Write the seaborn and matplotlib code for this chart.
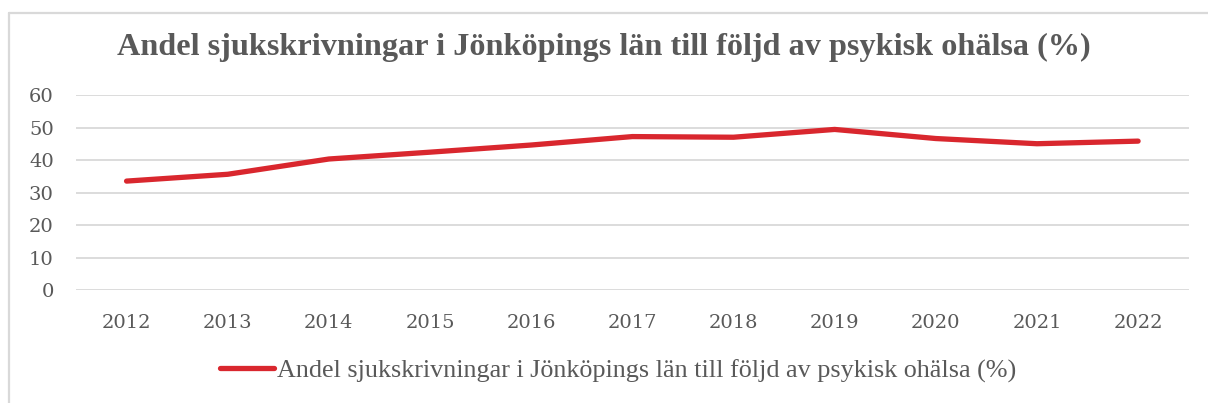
import matplotlib.pyplot as plt
import pandas as pd
import seaborn as sns
from matplotlib.lines import Line2D

years = ["2012", "2013", "2014", "2015", "2016", "2017", "2018", "2019", "2020", "2021", "2022"]
share = [33.6, 35.7, 40.4, 42.5, 44.7, 47.3, 47.1, 49.5, 46.7, 45.1, 45.9]
y_ticks = [0, 10, 20, 30, 40, 50, 60]
series_name = "Andel sjukskrivningar i Jönköpings län till följd av psykisk ohälsa (%)"

RED = "#d9272e"
GREY_TEXT = "#595959"
GRID = "#d9d9d9"


def main() -> None:
    sns.set_theme(style="white")
    # ticks in a wide serif (closest to Georgia), title/legend in Liberation Serif
    plt.rcParams["font.family"] = ["DejaVu Serif"]

    df = pd.DataFrame({"år": years, "andel": share})

    fig = plt.figure(figsize=(12.08, 4.03), dpi=100)
    ax = fig.add_axes([0.0629, 0.2797, 0.984 - 0.0629, 0.7635 - 0.2797])

    sns.lineplot(data=df, x="år", y="andel", ax=ax, color=RED, linewidth=3.8,
                 solid_capstyle="round", sort=False)

    ax.set_xlim(-0.5, len(years) - 0.5)
    ax.set_ylim(0, 60)
    ax.set_yticks(y_ticks)
    for y in y_ticks:
        ax.axhline(y, color=GRID, linewidth=1.3, zorder=0)
    for side in ["top", "right", "left", "bottom"]:
        ax.spines[side].set_visible(False)

    ax.set_xlabel("")
    ax.set_ylabel("")
    ax.tick_params(axis="both", length=0, colors=GREY_TEXT, labelsize=14)
    ax.tick_params(axis="x", pad=17)
    ax.tick_params(axis="y", pad=16)

    fig.text(0.5, 1 - 47 / 403, series_name, ha="center", va="center",
             fontsize=23.2, fontweight="bold", color=GREY_TEXT,
             family=["Liberation Serif", "DejaVu Serif"])

    handle = Line2D([], [], color=RED, linewidth=3.8, solid_capstyle="round")
    fig.legend([handle], [series_name], loc="center",
               bbox_to_anchor=(0.5 + 14 / 1208, 1 - 371 / 403),
               frameon=False, handlelength=2.1, handletextpad=0.1,
               labelcolor=GREY_TEXT,
               prop={"family": ["Liberation Serif", "DejaVu Serif"], "size": 18.8})

    # chart frame (top and left edges visible)
    fig.add_artist(Line2D([8.5 / 1208, 1], [1 - 12.5 / 403, 1 - 12.5 / 403],
                          transform=fig.transFigure, color=GRID, linewidth=1.6))
    fig.add_artist(Line2D([8.5 / 1208, 8.5 / 1208], [0, 1 - 12.5 / 403],
                          transform=fig.transFigure, color=GRID, linewidth=1.6))

    fig.savefig("out.png", dpi=100, facecolor="white")
    plt.close(fig)


if __name__ == "__main__":
    main()
